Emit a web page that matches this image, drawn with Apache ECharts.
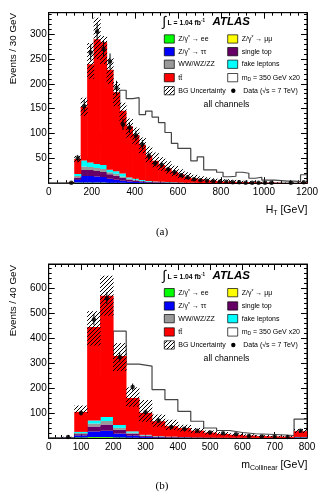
<!DOCTYPE html>
<html><head><meta charset="utf-8">
<script src="https://cdn.jsdelivr.net/npm/echarts@6/dist/echarts.min.js"></script>
<style>html,body{margin:0;padding:0;background:#fff}#c{width:324px;height:493px}</style>
</head><body><div id="c"></div>
<script>
// ===== Panel (a): H_T, 30 GeV bins =====
const htBinLow = [0,30,60,90,120,150,180,210,240,270,300,330,360,390,420,450,480,510,540,570,600,630,660,690,720,750,780,810,840,870,900,930,960,990,1020,1050,1080,1110,1140,1170];
const htMax = 1200;
const htZee = [0,0,0,0.2,1,1,1,1,1,0.8,0.6,0.5,0.4,0.3,0.2,0.2,0.1,0.1,0.1,0,0,0,0,0,0,0,0,0,0,0,0,0,0,0,0,0,0,0,0,0];
const htZmm = [0,0,0,0.1,0.5,0.5,0.5,0.5,0.4,0.3,0.3,0.2,0.2,0.1,0.1,0.1,0,0,0,0,0,0,0,0,0,0,0,0,0,0,0,0,0,0,0,0,0,0,0,0];
const htZtt = [0,0,0,0.3,6,13,13,12,11,8,6,4,3,2,1.5,1,0.8,0.6,0.5,0.4,0.3,0.2,0.2,0.1,0.1,0.1,0,0,0,0,0,0,0,0,0,0,0,0,0,0];
const htTop = [0,0,0,0.1,4,12,12,11,10,9,8,6,4,3,2,1.5,1.2,1,0.8,0.6,0.5,0.4,0.3,0.3,0.2,0.2,0.1,0.1,0.1,0.1,0,0,0,0,0,0,0,0,0,0];
const htDiboson = [0,0,0,0.1,3,7,6,6,6,4,4,3,2,1.5,1,0.8,0.6,0.5,0.4,0.3,0.2,0.2,0.1,0.1,0.1,0,0,0,0,0,0,0,0,0,0,0,0,0,0,0];
const htFake = [0,0,0,0.2,4,12,9,8,8,5,5,6,2,2,1.5,1,0.8,0.6,0.5,0.4,0.3,0.2,0.2,0.1,0.1,0.1,0.1,0,0,0,0,0,0,0,0,0,0,0,0,0];
const htTtbar = [0,0,0,0.2,30,108,198,251,247,201,159,126,103,88,71,51,41.5,34,27.7,21.3,16.7,12,9.2,7.4,5.5,4.6,3.8,2.9,2.9,1.9,2,1.5,1.2,1,1,0.8,0.6,0.5,0.5,1.5];
const htBandHi = [0,0,0,2,55,172,282,333,296,252,203,162,130,112,92,74,62,52,44,35,28,22,17,14,12,10,9,8,7,6,5,4,3,3,2,2,1.5,1.5,1.5,4];
const htBandLo = [0,0,0,0.5,42,135,210,250,240,200,155,120,92,78,60,42,32,25,19,14,10,7,5,4,3,2,1.5,1,1,0.8,0.6,0.5,0.4,0.3,0.3,0.2,0.2,0.2,0.2,0.5];
const htSignal = [0,0,0,0.5,8,25,50,75,100,130,150,187,170,172,138,145,133,122,102,80,70,70,45,53,27,27,22,13,14,22,20,10,12,6,6,5,4,4,3,17];
const htData = [0,0,0,1,50,155,263,305,270,245,192,118,112,96,78,55,40,37,28,22,16,12,8,6,5,4,3,3,2,2,1,1,1,1,1,0,0,1,0,2];
const htDataErr = [0,0,0,1,7,12,16,17,16,16,14,11,11,10,9,7,6,6,5,5,4,3.5,3,2.5,2.2,2,1.7,1.7,1.4,1.4,1,1,1,1,1,0,0,1,0,1.4];
const htTicks = [0,200,400,600,800,1000,1200];
const htYTicks = [50,100,150,200,250,300];

// ===== Panel (b): m_Collinear, 40 GeV bins =====
const mcBinLow = [0,40,80,120,160,200,240,280,320,360,400,440,480,520,560,600,640,680,720,760];
const mcMax = 800;
const mcZee = [0,0.3,2,3,3,2,1,0.5,0.3,0.2,0.1,0,0,0,0,0,0,0,0,0.2];
const mcZmm = [0,0.1,0.5,1,1,0.5,0.5,0.2,0.1,0.1,0,0,0,0,0,0,0,0,0,0];
const mcZtt = [0,1,8,22,25,15,8,4,2,1,1,0.5,0.3,0.2,0.2,0.1,0.1,0.1,0.1,1];
const mcTop = [0,0.3,5,20,25,15,8,4,3,2,1.5,1,0.8,0.6,0.5,0.4,0.3,0.3,0.2,1.5];
const mcDiboson = [0,0.2,4,12,14,8,4,2,1,1,0.5,0.5,0.3,0.2,0.2,0.1,0.1,0.1,0.1,0.5];
const mcFake = [0,0.3,5,12,16,12,5,2,1,1,0.5,0.5,0.3,0.3,0.2,0.2,0.1,0.1,0.1,1];
const mcTtbar = [0,0.5,80,375,486,276,134,88,60,42,36,27,20,15,12,9,7,6,5,23];
const mcBandHi = [0,5,130,508,650,380,203,152,94,73,53,40,30,24,19,15,11,9,8,36];
const mcBandLo = [0,1,100,370,490,268,125,65,45,32,26,19,14,10,8,6,4,3,3,20];
const mcSignal = [0,0,20,90,250,428,296,288,194,154,107,67,40,30,22,17,15,13,10,76];
const mcData = [0,4,100,475,560,324,204,103,70,44,37,29,22,19,15,8,6,5,4,29];
const mcDataErr = [0,2,10,22,24,18,14,10,8,7,6,5.5,4.7,4.4,3.9,2.8,2.4,2.2,2,5.4];
const mcTicks = [0,100,200,300,400,500,600,700,800];
const mcYTicks = [100,200,300,400,500,600];

const compNames = ['Z/γ* → ee','Z/γ* → μμ','Z/γ* → ττ','single top','WW/WZ/ZZ','fake leptons','tt̄'];
const compColors = ['#00ff00','#ffff00','#0000ff','#660066','#999999','#00ffff','#ff0000'];

const FONT = '"Liberation Sans", Arial, Helvetica, sans-serif';
const mctx = document.createElement('canvas').getContext('2d');
function fontStr(p){ return (p.it?'italic ':'') + (p.b?'bold ':'') + p.s + 'px ' + FONT; }
function tw(p){ mctx.font = fontStr(p); return mctx.measureText(p.t).width; }
function runText(x, y, parts, alignRight){
  const total = parts.reduce((a,p)=>a+tw(p),0);
  let cx = alignRight ? x - total : x;
  return parts.map(p => { const el = {type:'text', x:cx, y:y+(p.dy||0), silent:true, z:100,
    style:{text:p.t, font:fontStr(p), fill:'#000', align:'left', verticalAlign:'middle'}}; cx += tw(p); return el; });
}
function makeHatch(){
  const c = document.createElement('canvas'); c.width = 4; c.height = 4;
  const g = c.getContext('2d');
  g.strokeStyle = '#000'; g.lineWidth = 1;
  g.beginPath();
  g.moveTo(-1,5); g.lineTo(5,-1);
  g.moveTo(-5,5); g.lineTo(1,-1);
  g.moveTo(3,5); g.lineTo(9,-1);
  g.stroke();
  return c;
}
const hatch = {image: makeHatch(), repeat: 'repeat'};

function stepPts(low, max, vals){ const p = low.map((x,i)=>[x, vals[i]]); p.push([max, vals[vals.length-1]]); return p; }
function highEdges(low, max){ return low.map((x,i)=> i+1<low.length ? low[i+1] : max); }

// one rectangle per bin, placed through the library's coordinate system
function rectSeries(xi, yi, low, max, bottoms, tops, fill, z){
  const hi = highEdges(low, max);
  const data = [];
  low.forEach((x,i)=>{ if (tops[i] > bottoms[i]) data.push([x, hi[i], bottoms[i], tops[i]]); });
  return {type:'custom', xAxisIndex:xi, yAxisIndex:yi, data, z, silent:true, clip:true,
    encode:{x:[0,1], y:[2,3]},
    renderItem:(params, api)=>{
      const a = api.coord([api.value(0), api.value(3)]);
      const b = api.coord([api.value(1), api.value(2)]);
      return {type:'rect', shape:{x:a[0]-0.3, y:a[1], width:b[0]-a[0]+0.6, height:b[1]-a[1]},
        style:{fill:fill, stroke:null}};
    }};
}

function panelSeries(xi, yi, low, max, comps, bandHi, bandLo, signal, data, dataErr){
  const s = [];
  s.push({type:'line', xAxisIndex:xi, yAxisIndex:yi, data:stepPts(low,max,signal), step:'end', symbol:'none',
    lineStyle:{color:'#444', width:1.2}, z:1, silent:true});
  let base = low.map(()=>0);
  comps.forEach((v,k)=>{
    const top = base.map((b,i)=>b+v[i]);
    s.push(rectSeries(xi, yi, low, max, base, top, compColors[k], 2));
    base = top;
  });
  s.push(rectSeries(xi, yi, low, max, bandLo, bandHi, hatch, 3));
  const hi = highEdges(low,max);
  const pts = [], errs = [];
  data.forEach((d,i)=>{ const c=(low[i]+hi[i])/2; if(d>0){ pts.push([c, d]); errs.push([c, Math.max(0,d-dataErr[i]), d+dataErr[i]]); } });
  s.push({type:'custom', xAxisIndex:xi, yAxisIndex:yi, data:errs, z:5, silent:true, encode:{x:0, y:[1,2]},
    renderItem:(params, api)=>{ const a = api.coord([api.value(0), api.value(1)]); const b = api.coord([api.value(0), api.value(2)]);
      return {type:'line', shape:{x1:a[0],y1:a[1],x2:b[0],y2:b[1]}, style:{stroke:'#000', lineWidth:1}}; }});
  s.push({type:'scatter', xAxisIndex:xi, yAxisIndex:yi, data:pts, symbol:'circle', symbolSize:4.5, itemStyle:{color:'#000'}, z:6, silent:true});
  return s;
}

function xAx(gi, max, interval, ticks, top){
  return {gridIndex:gi, type:'value', min:0, max:max, interval:interval, position: top?'top':'bottom',
    axisLine:{show:true, onZero:false, lineStyle:{color:'#000', width:1}},
    axisTick:{show:true, inside:true, length:6, lineStyle:{color:'#000', width:1}},
    minorTick:{show:true, splitNumber:5, length:3, lineStyle:{color:'#000', width:1}},
    splitLine:{show:false},
    axisLabel:{show:!top, fontSize:10, fontFamily:FONT, color:'#000', margin:4,
      formatter:(v)=> ticks.indexOf(v)>=0 ? String(v) : ''}};
}
function yAx(gi, max, interval, ticks, right){
  return {gridIndex:gi, type:'value', min:0, max:max, interval:interval, position: right?'right':'left',
    axisLine:{show:true, onZero:false, lineStyle:{color:'#000', width:1}},
    axisTick:{show:true, inside:true, length:6, lineStyle:{color:'#000', width:1}},
    minorTick:{show:true, splitNumber:5, length:3, lineStyle:{color:'#000', width:1}},
    splitLine:{show:false},
    axisLabel:{show:!right, fontSize:10, fontFamily:FONT, color:'#000', margin:2,
      formatter:(v)=> ticks.indexOf(v)>=0 ? String(v) : ''}};
}

function legend(yT, rows, yAll){
  const g = [];
  g.push(...runText(162.5, yT, [{t:'∫', s:14}]));
  g.push(...runText(167.5, yT+1.2, [{t:'L = 1.04 fb', s:6.8, b:true}, {t:'-1', s:4.5, b:true, dy:-2.5}]));
  g.push(...runText(212.5, yT, [{t:'ATLAS', s:11.5, b:true, it:true}]));
  const box = (x,y,fill)=>({type:'rect', shape:{x:x, y:y-4.2, width:10, height:8.3}, z:100, silent:true,
    style:{fill:fill, stroke:'#000', lineWidth:0.7}});
  const c1 = 164.3, c2 = 227.7, t1 = 178.3, t2 = 241.7, fs = 7;
  const zl = (lep)=>[{t:'Z/γ', s:fs},{t:'*', s:5, dy:-1.5},{t:' → '+lep, s:fs}];
  g.push(box(c1,rows[0],compColors[0])); g.push(...runText(t1,rows[0],zl('ee')));
  g.push(box(c2,rows[0],compColors[1])); g.push(...runText(t2,rows[0],zl('μμ')));
  g.push(box(c1,rows[1],compColors[2])); g.push(...runText(t1,rows[1],zl('ττ')));
  g.push(box(c2,rows[1],compColors[3])); g.push(...runText(t2,rows[1],[{t:'single top', s:fs}]));
  g.push(box(c1,rows[2],compColors[4])); g.push(...runText(t1,rows[2],[{t:'WW/WZ/ZZ', s:fs}]));
  g.push(box(c2,rows[2],compColors[5])); g.push(...runText(t2,rows[2],[{t:'fake leptons', s:fs}]));
  g.push(box(c1,rows[3],compColors[6])); g.push(...runText(t1,rows[3],[{t:'tt̄', s:fs}]));
  g.push(box(c2,rows[3],'#fff')); g.push(...runText(t2,rows[3],[{t:'m', s:fs},{t:'D', s:5, dy:1.8},{t:' = 350 GeV x20', s:fs}]));
  g.push(box(c1,rows[4],hatch)); g.push(...runText(t1,rows[4],[{t:'BG Uncertainty', s:fs}]));
  g.push({type:'circle', shape:{cx:233.3, cy:rows[4], r:2.2}, z:100, silent:true, style:{fill:'#000'}});
  g.push(...runText(t2+1.5,rows[4],[{t:'Data (√s = 7 TeV)', s:fs}]));
  g.push({type:'text', x:226.5, y:yAll, z:100, silent:true, style:{text:'all channels', font:'8.7px '+FONT, fill:'#000', align:'center', verticalAlign:'middle'}});
  return g;
}

const chart = echarts.init(document.getElementById('c'), null, {renderer:'canvas'});
const graphics = [];
graphics.push(...legend(22.3, [39,51.7,64.3,77.7,90.7], 105));
graphics.push(...legend(276, [292.7,306,318.7,332,345], 358.7));
graphics.push({type:'text', x:13, y:13, rotation:Math.PI/2, z:100, silent:true, style:{text:'Events / 30 GeV', font:'9.8px '+FONT, fill:'#000', align:'right', verticalAlign:'middle'}});
graphics.push({type:'text', x:13, y:265, rotation:Math.PI/2, z:100, silent:true, style:{text:'Events / 40 GeV', font:'9.8px '+FONT, fill:'#000', align:'right', verticalAlign:'middle'}});
graphics.push(...runText(307.3, 210, [{t:'H', s:10.5},{t:'T', s:7, dy:3},{t:' [GeV]', s:10.5}], true));
graphics.push(...runText(307.3, 465, [{t:'m', s:10.5},{t:'Collinear', s:7, dy:3},{t:' [GeV]', s:10.5}], true));
graphics.push({type:'text', x:162, y:232.3, z:100, silent:true, style:{text:'(a)', font:'11px "Liberation Serif", "DejaVu Serif", serif', fill:'#000', align:'center', verticalAlign:'middle'}});
graphics.push({type:'text', x:162, y:486, z:100, silent:true, style:{text:'(b)', font:'11px "Liberation Serif", "DejaVu Serif", serif', fill:'#000', align:'center', verticalAlign:'middle'}});

const option = {
  animation:false,
  backgroundColor:'#fff',
  grid:[
    {left:48.7, top:12.7, width:258.3, height:170.5, show:true, borderColor:'#000', borderWidth:1, backgroundColor:'transparent', containLabel:false},
    {left:48.7, top:264, width:258.3, height:174, show:true, borderColor:'#000', borderWidth:1, backgroundColor:'transparent', containLabel:false}
  ],
  xAxis:[ xAx(0, htMax, 200, htTicks, false), xAx(0, htMax, 200, htTicks, true),
          xAx(1, mcMax, 100, mcTicks, false), xAx(1, mcMax, 100, mcTicks, true) ],
  yAxis:[ yAx(0, 343, 50, htYTicks, false), yAx(0, 343, 50, htYTicks, true),
          yAx(1, 697, 100, mcYTicks, false), yAx(1, 697, 100, mcYTicks, true) ],
  series:[
    ...panelSeries(0, 0, htBinLow, htMax, [htZee,htZmm,htZtt,htTop,htDiboson,htFake,htTtbar], htBandHi, htBandLo, htSignal, htData, htDataErr),
    ...panelSeries(2, 2, mcBinLow, mcMax, [mcZee,mcZmm,mcZtt,mcTop,mcDiboson,mcFake,mcTtbar], mcBandHi, mcBandLo, mcSignal, mcData, mcDataErr)
  ],
  graphic: graphics
};
chart.setOption(option);
</script></body></html>
